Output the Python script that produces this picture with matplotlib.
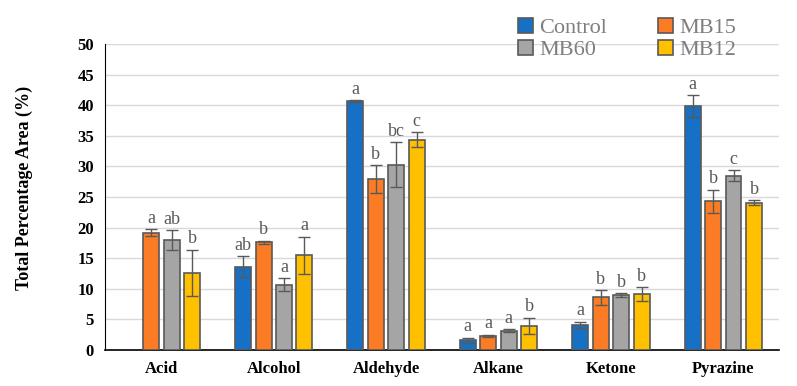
import matplotlib.pyplot as plt
import numpy as np

categories = ['Acid', 'Alcohol', 'Aldehyde', 'Alkane', 'Ketone', 'Pyrazine']
series = ['Control', 'MB15', 'MB60', 'MB12']

control = [0, 13.6, 40.7, 1.6, 4.1, 39.8]
mb15 = [19.2, 17.6, 27.9, 2.3, 8.6, 24.3]
mb60 = [18.0, 10.7, 30.3, 3.2, 9.0, 28.5]
mb12 = [12.6, 15.5, 34.4, 4.0, 9.2, 24.1]

control_err = [0, 1.7, 0.1, 0.4, 0.5, 1.8]
mb15_err = [0.5, 0.3, 2.3, 0.2, 1.2, 1.9]
mb60_err = [1.6, 1.0, 3.7, 0.2, 0.3, 0.9]
mb12_err = [3.8, 3.0, 1.2, 1.3, 1.1, 0.4]

control_sig = ['', 'ab', 'a', 'a', 'a', 'a']
mb15_sig = ['a', 'b', 'b', 'a', 'b', 'b']
mb60_sig = ['ab', 'a', 'bc', 'a', 'b', 'c']
mb12_sig = ['b', 'a', 'c', 'b', 'b', 'b']

values = [control, mb15, mb60, mb12]
errors = [control_err, mb15_err, mb60_err, mb12_err]
sigs = [control_sig, mb15_sig, mb60_sig, mb12_sig]
colors = ['#1670C6', '#FB7C24', '#A5A5A5', '#FFC000']

serif = ['Liberation Serif', 'DejaVu Serif']

fig = plt.figure(figsize=(7.97, 3.86), dpi=100)
ax = fig.add_axes([0.132, 0.093, 0.846, 0.793])

x = np.arange(len(categories))
width = 0.142
step = 0.182

handles = []
for i, name in enumerate(series):
    pos = x + (i - 1.5) * step
    vals = np.array(values[i])
    errs = np.array(errors[i])
    show = vals > 0
    h = ax.bar(pos[show], vals[show], width, color=colors[i], edgecolor='#595959',
               linewidth=1.2, label=name, zorder=3)
    handles.append(h)
    ax.errorbar(pos[show], vals[show], yerr=errs[show], fmt='none', ecolor='#595959',
                elinewidth=1, capsize=4, capthick=1, zorder=4)
    for p, v, e, s in zip(pos, vals, errs, sigs[i]):
        if s:
            ax.text(p, v + e + 0.4, s, ha='center', va='bottom', fontsize=13,
                    color='#595959', family=serif)

ax.set_xlim(-0.5, len(categories) - 0.5)
ax.set_ylim(0, 50)
ax.set_yticks(np.arange(0, 51, 5))
ax.set_xticks(x)
ax.set_xticklabels(categories, fontsize=12, fontweight='bold', family=serif)
for lab in ax.get_yticklabels():
    lab.set_fontsize(12)
    lab.set_fontweight('bold')
    lab.set_family(serif)
ax.tick_params(axis='both', length=0, pad=8)
ax.set_ylabel('Total Percentage Area (%)', fontsize=13, fontweight='bold',
              family=serif, labelpad=32)
ax.yaxis.label.set_y(0.53)

ax.grid(axis='y', color='#D9D9D9', linewidth=1, zorder=0)
for side in ['top', 'right']:
    ax.spines[side].set_visible(False)
ax.spines['left'].set_color('black')
ax.spines['bottom'].set_color('black')
ax.spines['bottom'].set_linewidth(1.2)

# row-wise legend order: Control, MB15 / MB60, MB12
order = [0, 2, 1, 3]
leg = fig.legend([handles[k] for k in order], [series[k] for k in order],
                 ncol=2, loc='upper left', bbox_to_anchor=(0.628, 1.0),
                 frameon=False, prop={'family': serif, 'size': 16},
                 handlelength=0.65, handleheight=0.65, handletextpad=0.3,
                 columnspacing=2.3, labelspacing=0.1, borderpad=0.3)
for t in leg.get_texts():
    t.set_color('#7F7F7F')

fig.savefig('out.png', dpi=100)
